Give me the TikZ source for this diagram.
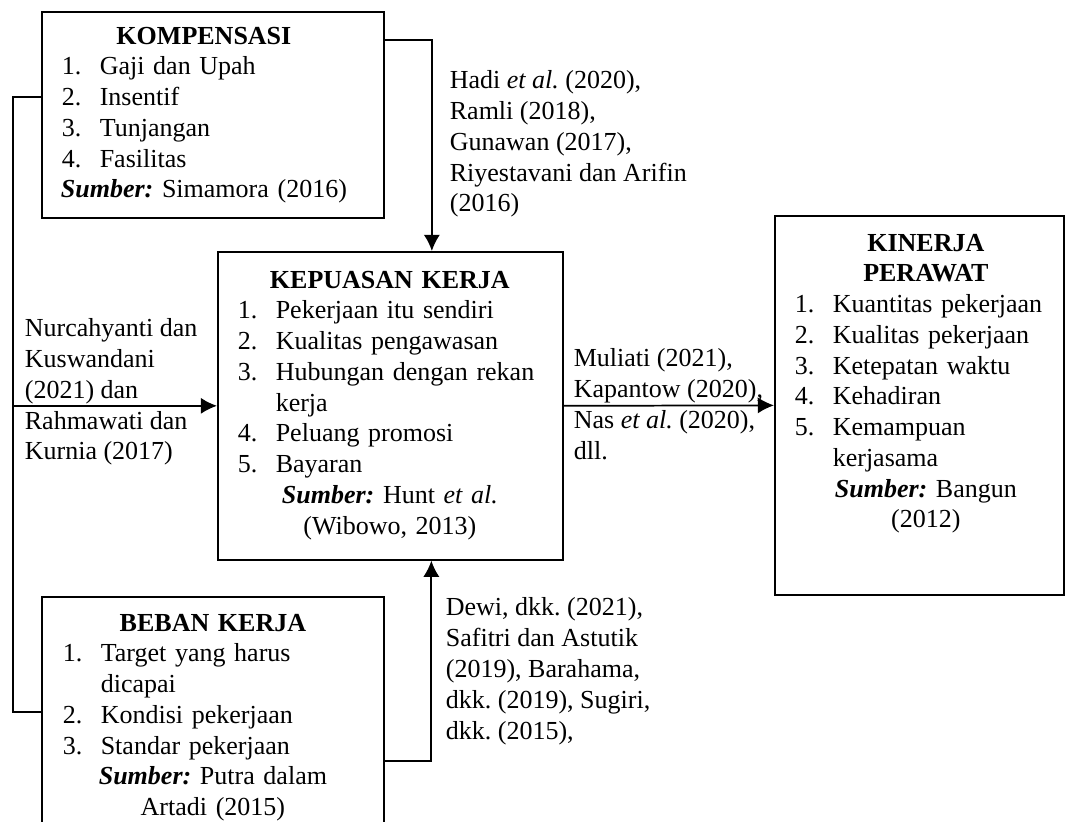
\documentclass[tikz,border=0pt]{standalone}
\usepackage{fontspec}
\setmainfont{Liberation Serif}
\usetikzlibrary{arrows.meta,calc,positioning}
\newcommand{\ctr}[1]{\makebox[\linewidth][c]{#1}}
\newcommand{\ttl}[1]{\ctr{\textbf{#1}}}
\newcommand{\src}[1]{\ctr{{\bfseries\itshape Sumber:} #1}}
\newcommand{\itm}[2]{\makebox[17.5pt][l]{#1}#2}

\begin{document}
\begin{tikzpicture}[x=0.4615pt,y=-0.4615pt,>={Latex[length=7.5pt,width=7.5pt]},thick,
  every node/.style={font=\fontsize{12}{14.2}\selectfont\frenchspacing},
  box/.style={draw,rectangle,anchor=north west,inner sep=0pt},
  txt/.style={anchor=north west,inner sep=0pt,align=left}]
  \useasboundingbox (0,0) rectangle (1067,821);
  \node[box,minimum width=157.8pt,minimum height=95.1pt] (KOMP) at (41,11) {};
  \node[box,minimum width=159.2pt,minimum height=142.1pt] (PUAS) at (217,251) {};
  \node[box,minimum width=133.4pt,minimum height=174.9pt] (KIN) at (774,215) {};
  \node[box,minimum width=157.8pt,minimum height=120pt] (BEBAN) at (41,596) {};
  \node[txt,text width=131.1pt] (KOMPtxt) at (61,26) {\ttl{KOMPENSASI}\\
    \itm{1.}{Gaji dan Upah}\\ \itm{2.}{Insentif}\\ \itm{3.}{Tunjangan}\\
    \itm{4.}{Fasilitas}\\ \src{Simamora (2016)}};
  \node[txt,text width=140.3pt] (PUAStxt) at (237,270) {\ttl{KEPUASAN KERJA}\\
    \itm{1.}{Pekerjaan itu sendiri}\\ \itm{2.}{Kualitas pengawasan}\\
    \itm{3.}{Hubungan dengan rekan}\\ \itm{}{kerja}\\ \itm{4.}{Peluang promosi}\\
    \itm{5.}{Bayaran}\\ \src{Hunt \textit{et al.}}\\ \ctr{(Wibowo, 2013)}};
  \node[txt,text width=120.9pt] (KINtxt) at (794,233) {\ttl{KINERJA}\\ \ttl{PERAWAT}\\
    \itm{1.}{Kuantitas pekerjaan}\\ \itm{2.}{Kualitas pekerjaan}\\
    \itm{3.}{Ketepatan waktu}\\ \itm{4.}{Kehadiran}\\ \itm{5.}{Kemampuan}\\
    \itm{}{kerjasama}\\ \src{Bangun}\\ \ctr{(2012)}};
  \node[txt,text width=138.5pt] (BEBANtxt) at (62,613) {\ttl{BEBAN KERJA}\\
    \itm{1.}{Target yang harus}\\ \itm{}{dicapai}\\ \itm{2.}{Kondisi pekerjaan}\\
    \itm{3.}{Standar pekerjaan}\\ \src{Putra dalam}\\ \ctr{Artadi (2015)}};
  \node[txt] (hadi) at (449,70) {Hadi \textit{et al.} (2020),\\ Ramli (2018),\\
    Gunawan (2017),\\ Riyestavani dan Arifin\\ (2016)};
  \node[txt] (nurc) at (24,318) {Nurcahyanti dan\\ Kuswandani\\ (2021) dan\\
    Rahmawati dan\\ Kurnia (2017)};
  \node[txt] (muli) at (573,348) {Muliati (2021),\\ Kapantow (2020),\\
    Nas \textit{et al.} (2020),\\ dll.};
  \node[txt] (dewi) at (445,597) {Dewi, dkk. (2021),\\ Safitri dan Astutik\\
    (2019), Barahama,\\ dkk. (2019), Sugiri,\\ dkk. (2015),};
  \coordinate (lft) at ($(PUAS.west)+(-204,0)$);
  \draw[->] ($(KOMP.north east)+(0,29)$) -| ($(PUAS.north)+(41.5,0)$);
  \draw ($(KOMP.north west)+(0,86)$) -| (lft) |- ($(BEBAN.north west)+(0,116)$);
  \draw[->] (lft) -- (PUAS.west);
  \draw[->] (PUAS.east) -- (KIN.west);
  \draw[->] ($(BEBAN.north east)+(0,165)$) -| ($(PUAS.south)+(41,0)$);
\end{tikzpicture}
\end{document}
